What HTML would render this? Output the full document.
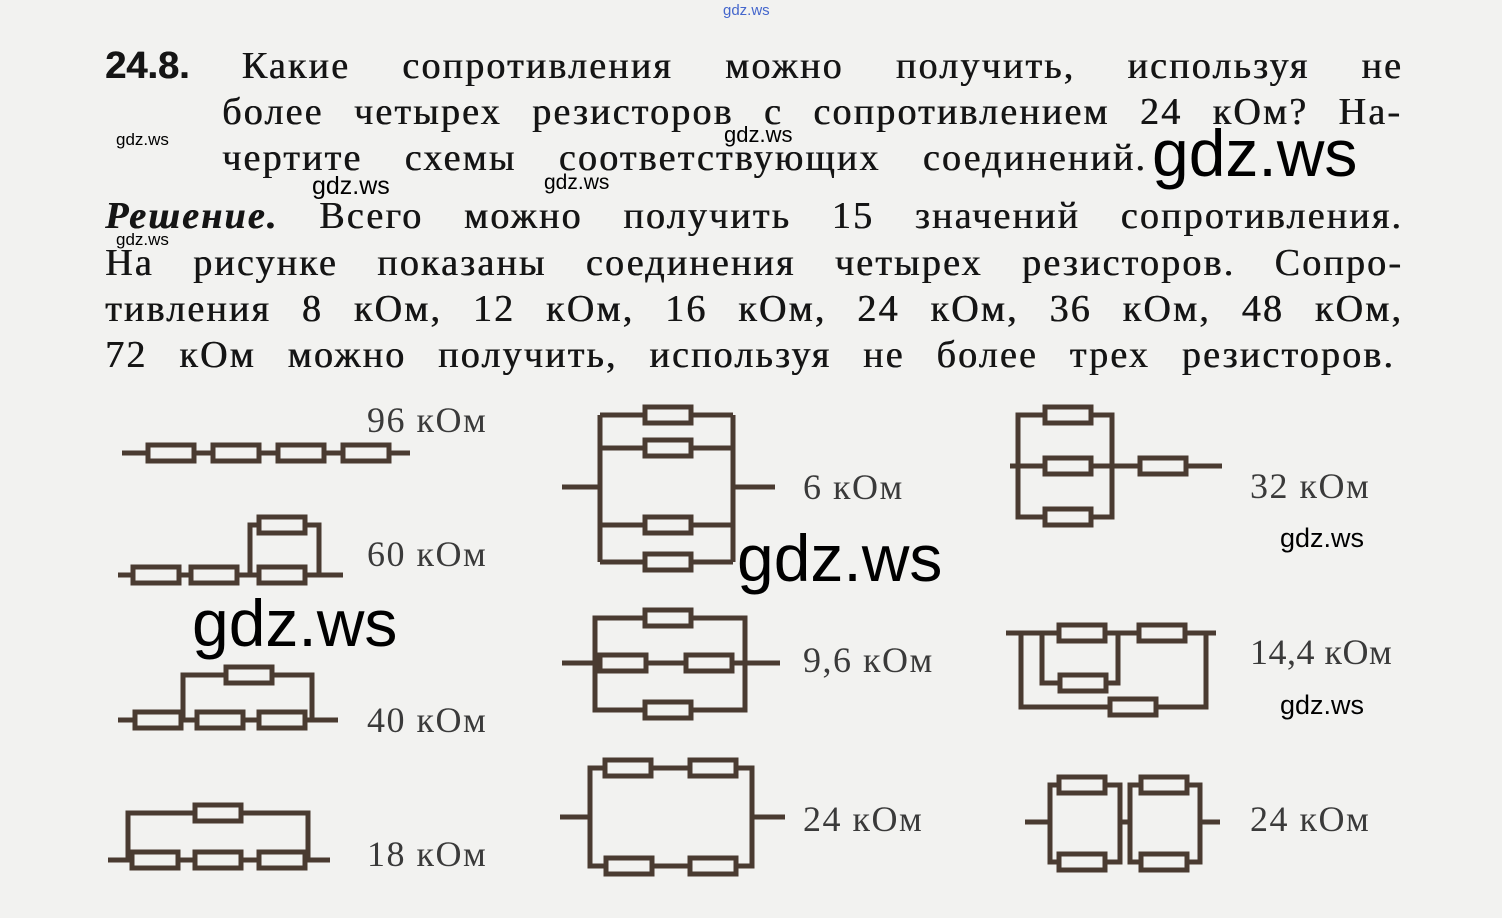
<!DOCTYPE html>
<html><head><meta charset="utf-8"><style>
body{margin:0;width:1502px;height:918px;background:#f2f2f0;position:relative;overflow:hidden;font-family:"Liberation Serif",serif;color:#151515}
.l{position:absolute;font-size:38px;line-height:40px;white-space:nowrap;text-align:justify;text-align-last:justify;letter-spacing:2.2px;text-shadow:0.6px 0 0 #151515}
.w{position:absolute;font-family:"Liberation Sans",sans-serif;color:#000;line-height:1}
.lab{position:absolute;font-size:36px;color:#3a3a3a;line-height:1;letter-spacing:1.5px}
svg{position:absolute;left:0;top:0}
</style></head><body>
<div class="w" style="left:723px;top:3px;font-size:15px;color:#4466cc">gdz.ws</div>
<div class="l" style="left:105px;top:46px;width:1298px"><b style="font-family:'Liberation Sans',sans-serif;letter-spacing:0">24.8.</b> Какие сопротивления можно получить, используя не</div>
<div class="l" style="left:222px;top:92px;width:1180px">более четырех резисторов с сопротивлением 24 кОм? На-</div>
<div class="l" style="left:222px;top:138px;width:925px">чертите схемы соответствующих соединений.</div>
<div class="l" style="left:105px;top:196px;width:1298px"><b><i>Решение.</i></b> Всего можно получить 15 значений сопротивления.</div>
<div class="l" style="left:105px;top:243px;width:1298px">На рисунке показаны соединения четырех резисторов. Сопро-</div>
<div class="l" style="left:105px;top:289px;width:1298px">тивления 8 кОм, 12 кОм, 16 кОм, 24 кОм, 36 кОм, 48 кОм,</div>
<div class="l" style="left:105px;top:335px;width:1290px">72 кОм можно получить, используя не более трех резисторов.</div>

<div class="w" style="left:116px;top:131px;font-size:17px">gdz.ws</div>
<div class="w" style="left:116px;top:231px;font-size:17px">gdz.ws</div>
<div class="w" style="left:724px;top:124px;font-size:22px">gdz.ws</div>
<div class="w" style="left:312px;top:174px;font-size:25px">gdz.ws</div>
<div class="w" style="left:544px;top:172px;font-size:21px">gdz.ws</div>
<div class="w" style="left:1152px;top:120px;font-size:66px">gdz.ws</div>
<div class="w" style="left:737px;top:525px;font-size:66px">gdz.ws</div>
<div class="w" style="left:192px;top:590px;font-size:66px">gdz.ws</div>
<div class="w" style="left:1280px;top:525px;font-size:27px">gdz.ws</div>
<div class="w" style="left:1280px;top:692px;font-size:27px">gdz.ws</div>

<div class="lab" style="left:367px;top:402px">96 кОм</div>
<div class="lab" style="left:367px;top:536px">60 кОм</div>
<div class="lab" style="left:367px;top:702px">40 кОм</div>
<div class="lab" style="left:367px;top:836px">18 кОм</div>
<div class="lab" style="left:803px;top:469px">6 кОм</div>
<div class="lab" style="left:803px;top:642px">9,6 кОм</div>
<div class="lab" style="left:803px;top:801px">24 кОм</div>
<div class="lab" style="left:1250px;top:468px">32 кОм</div>
<div class="lab" style="left:1250px;top:634px;letter-spacing:0.5px">14,4 кОм</div>
<div class="lab" style="left:1250px;top:801px">24 кОм</div>

<svg width="1502" height="918" viewBox="0 0 1502 918">
<defs><g id="r"><rect x="0" y="-8" width="46" height="16" fill="#f2f2f0" stroke="#4a3b31" stroke-width="5"/></g></defs>
<g fill="none" stroke="#4a3b31" stroke-width="5">
<path d="M122 453H410"/>
<path d="M118 575H343M250 575V525H319V575"/>
<path d="M118 720H338M183 720V675H312V720"/>
<path d="M108 860H330M128 860V813H308V860"/>
<path d="M600 415H733M600 448H733M600 525H733M600 562H733M600 415V562M733 415V562M562 487H600M733 487H775"/>
<path d="M595 618H745V710H595ZM562 663H780"/>
<path d="M590 768H752V866H590ZM560 817H590M752 817H785"/>
<path d="M1018 415H1112V517H1018ZM1010 466H1222"/>
<path d="M1006 633H1216M1042 633V683H1118V633M1021 633V707H1206V633"/>
<path d="M1050 785H1120V862H1050ZM1130 785H1200V862H1130ZM1025 822H1050M1120 822H1130M1200 822H1220"/>
</g>
<g>
<use href="#r" x="148" y="453"/><use href="#r" x="213" y="453"/><use href="#r" x="278" y="453"/><use href="#r" x="343" y="453"/>
<use href="#r" x="133" y="575"/><use href="#r" x="191" y="575"/><use href="#r" x="259" y="575"/><use href="#r" x="259" y="525"/>
<use href="#r" x="135" y="720"/><use href="#r" x="197" y="720"/><use href="#r" x="259" y="720"/><use href="#r" x="226" y="675"/>
<use href="#r" x="132" y="860"/><use href="#r" x="195" y="860"/><use href="#r" x="259" y="860"/><use href="#r" x="195" y="813"/>
<use href="#r" x="645" y="415"/><use href="#r" x="645" y="448"/><use href="#r" x="645" y="525"/><use href="#r" x="645" y="562"/>
<use href="#r" x="645" y="618"/><use href="#r" x="600" y="663"/><use href="#r" x="686" y="663"/><use href="#r" x="645" y="710"/>
<use href="#r" x="605" y="768"/><use href="#r" x="690" y="768"/><use href="#r" x="606" y="866"/><use href="#r" x="690" y="866"/>
<use href="#r" x="1045" y="415"/><use href="#r" x="1045" y="466"/><use href="#r" x="1045" y="517"/><use href="#r" x="1140" y="466"/>
<use href="#r" x="1059" y="633"/><use href="#r" x="1139" y="633"/><use href="#r" x="1060" y="683"/><use href="#r" x="1110" y="707"/>
<use href="#r" x="1059" y="785"/><use href="#r" x="1059" y="862"/><use href="#r" x="1141" y="785"/><use href="#r" x="1141" y="862"/>
</g>
</svg>
</body></html>
